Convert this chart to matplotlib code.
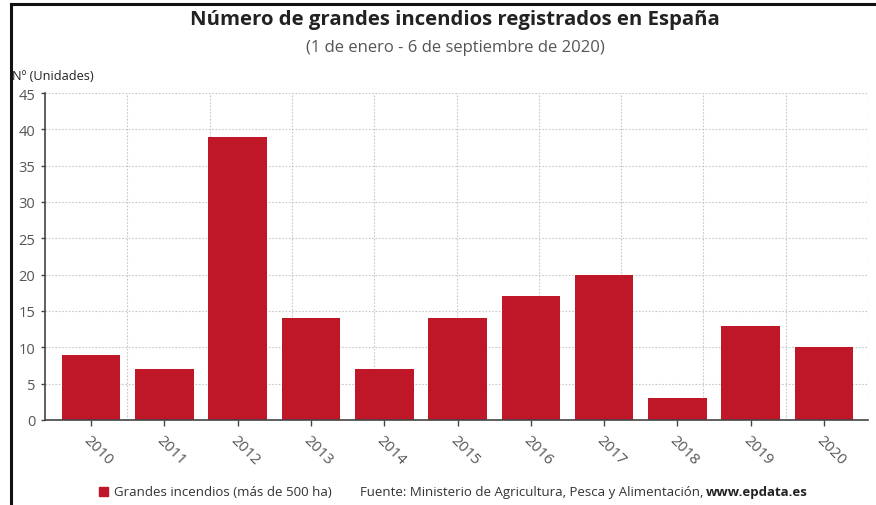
import numpy as np
import matplotlib
matplotlib.use("Agg")
import matplotlib.pyplot as plt
from matplotlib.patches import Rectangle
from matplotlib.lines import Line2D

plt.rcParams['font.family'] = ['Open Sans', 'DejaVu Sans']

years = ['2010', '2011', '2012', '2013', '2014', '2015', '2016', '2017', '2018', '2019', '2020']
fires = [9, 7, 39, 14, 7, 14, 17, 20, 3, 13, 10]
y_ticks = [0, 5, 10, 15, 20, 25, 30, 35, 40, 45]

BAR = '#BF1728'
TXT = '#555555'

W, H = 876, 506
fig = plt.figure(figsize=(W / 100, H / 100), dpi=100)

def fx(px):
    return px / W

def fy(py):
    return 1 - py / H

ax = fig.add_axes([fx(45), fy(421), fx(868) - fx(45), fy(94) - fy(421)])

x = np.arange(len(years))
ax.bar(x, fires, width=0.8, color=BAR, zorder=3)

xlim = (-0.63, 10.6)
ax.set_xlim(*xlim)
ax.set_ylim(0, 45)

# dotted grid: horizontal at the y ticks, vertical splitting the plot into ten columns
for v in y_ticks[1:]:
    ax.axhline(v, color='#c8c8c8', lw=0.8, ls=(0, (1.5, 1.5)), zorder=1)
for v in np.linspace(xlim[0], xlim[1], 11)[1:]:
    ax.axvline(v, color='#c8c8c8', lw=0.8, ls=(0, (1.5, 1.5)), zorder=1)

for s in ['top', 'right']:
    ax.spines[s].set_visible(False)
for s in ['left', 'bottom']:
    ax.spines[s].set_color('#444444')
    ax.spines[s].set_linewidth(1.2)
    ax.spines[s].set_linestyle((0, (1.5, 1)))
ax.spines['bottom'].set_zorder(4)

ax.set_yticks(y_ticks)
ax.set_yticklabels([str(v) for v in y_ticks], fontsize=10.5, color=TXT)
ax.tick_params(axis='y', length=3, width=1, color='#444444', pad=4)
ax.set_xticks(x)
ax.set_xticklabels(years, fontsize=11, color=TXT, rotation=-45,
                   ha='left', va='top', rotation_mode='anchor')
ax.tick_params(axis='x', length=4, width=1, color='#444444', pad=5)

# titles
fig.text(fx(455), fy(20), 'Número de grandes incendios registrados en España',
         ha='center', va='center', fontsize=14.7, fontweight='bold', color='#222222')
fig.text(fx(455), fy(48), '(1 de enero - 6 de septiembre de 2020)',
         ha='center', va='center', fontsize=12, color=TXT)
fig.text(fx(12), fy(76), 'Nº (Unidades)', ha='left', va='center',
         fontsize=9.2, color='#222222')

# legend and source line
fig.patches.append(Rectangle((fx(99), fy(497)), fx(9), fy(488) - fy(497),
                             transform=fig.transFigure, color=BAR))
fig.text(fx(114), fy(493), 'Grandes incendios (más de 500 ha)', ha='left',
         va='center', fontsize=9.5, color='#333333')
fig.text(fx(360), fy(493), 'Fuente: Ministerio de Agricultura, Pesca y Alimentación,',
         ha='left', va='center', fontsize=9.5, color='#333333')
fig.text(fx(808), fy(493), 'www.epdata.es', ha='right', va='center',
         fontsize=9.5, fontweight='bold', color='#222222')

# frame lines along the top and left edges
fig.add_artist(Line2D([fx(11), 1], [fy(4.5), fy(4.5)], transform=fig.transFigure,
                      color='#111111', lw=2.2))
fig.add_artist(Line2D([fx(11), fx(11)], [fy(4.5), 0], transform=fig.transFigure,
                      color='#111111', lw=2.2))

fig.savefig('out.png', dpi=100)
